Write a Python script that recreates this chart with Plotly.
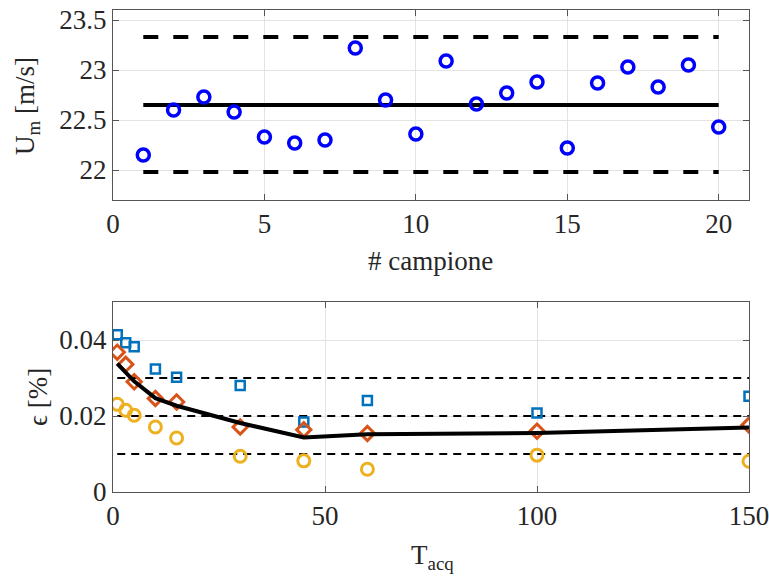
import numpy as np
import plotly.graph_objects as go

# Top panel: mean velocity per sample
campione = list(range(1, 21))
u_m = [22.15, 22.60, 22.73, 22.58, 22.33, 22.27, 22.30, 23.22, 22.70, 22.36,
       23.09, 22.66, 22.77, 22.88, 22.22, 22.87, 23.03, 22.83, 23.05, 22.43]
u_mean = 22.65
u_upper = 23.33
u_lower = 21.98

# Bottom panel: error vs acquisition time
t_acq = [1, 3, 5, 10, 15, 30, 45, 60, 100, 150]
eps_blue = [0.0414, 0.0393, 0.0382, 0.0324, 0.0302, 0.0280, 0.0184, 0.0241, 0.0208, 0.0252]
eps_orange = [0.0368, 0.0336, 0.0290, 0.0246, 0.0237, 0.0171, 0.0164, 0.0154, 0.0160, 0.0176]
eps_yellow = [0.0231, 0.0215, 0.0202, 0.0171, 0.0142, 0.0094, 0.0082, 0.0060, 0.0097, 0.0081]
eps_mean = list(np.mean([eps_blue, eps_orange, eps_yellow], axis=0))
eps_levels = [0.01, 0.02, 0.03]

W, H = 769, 576
FONT = "Liberation Serif, Times New Roman, serif"
TXT = "#262626"

fig = go.Figure()

# --- top panel ---
for yv, dash in [(u_upper, "15px,15px"), (u_lower, "15px,15px"), (u_mean, "solid")]:
    fig.add_trace(go.Scatter(x=[campione[0], campione[-1]], y=[yv, yv], mode="lines",
                             line=dict(color="black", width=4, dash=dash),
                             xaxis="x", yaxis="y", hoverinfo="skip"))
fig.add_trace(go.Scatter(x=campione, y=u_m, mode="markers",
                         marker=dict(symbol="circle-open", size=12, color="#0000FF",
                                     line=dict(width=3.5, color="#0000FF")),
                         xaxis="x", yaxis="y"))

# --- bottom panel ---
for lv in eps_levels:
    fig.add_trace(go.Scatter(x=[t_acq[0], t_acq[-1]], y=[lv, lv], mode="lines",
                             line=dict(color="black", width=2.2, dash="8px,6px"),
                             xaxis="x2", yaxis="y2", hoverinfo="skip"))
fig.add_trace(go.Scatter(x=t_acq, y=eps_blue, mode="markers",
                         marker=dict(symbol="square-open", size=9, color="#0072BD",
                                     line=dict(width=2.5, color="#0072BD")),
                         xaxis="x2", yaxis="y2"))
fig.add_trace(go.Scatter(x=t_acq, y=eps_orange, mode="markers",
                         marker=dict(symbol="diamond-open", size=11, color="#D95319",
                                     line=dict(width=3, color="#D95319")),
                         xaxis="x2", yaxis="y2"))
fig.add_trace(go.Scatter(x=t_acq, y=eps_yellow, mode="markers",
                         marker=dict(symbol="circle-open", size=12, color="#EDB120",
                                     line=dict(width=3, color="#EDB120")),
                         xaxis="x2", yaxis="y2"))
fig.add_trace(go.Scatter(x=t_acq, y=eps_mean, mode="lines",
                         line=dict(color="black", width=4),
                         xaxis="x2", yaxis="y2", hoverinfo="skip"))

axis_common = dict(showline=True, linecolor="#555555", linewidth=1, mirror="ticks",
                   ticks="inside", ticklen=6, tickcolor="#555555", automargin=False,
                   ticklabeloverflow="allow",
                   showgrid=True, gridcolor="#e3e3e3", gridwidth=1, zeroline=False,
                   tickfont=dict(family=FONT, size=27, color=TXT))

xdom = [113 / W, 749 / W]
fig.update_layout(
    width=W, height=H, margin=dict(l=0, r=0, t=0, b=0, autoexpand=False),
    paper_bgcolor="white", plot_bgcolor="white", showlegend=False,
    xaxis=dict(domain=xdom, range=[0, 21], tickvals=[0, 5, 10, 15, 20], anchor="y", **axis_common),
    yaxis=dict(domain=[1 - 200 / H, 1 - 10 / H], range=[21.7, 23.6],
               tickvals=[22, 22.5, 23, 23.5], ticktext=["22", "22.5", "23", "23.5"],
               anchor="x", **axis_common),
    xaxis2=dict(domain=xdom, range=[0, 150], tickvals=[0, 50, 100, 150], anchor="y2", **axis_common),
    yaxis2=dict(domain=[1 - 492 / H, 1 - 302 / H], range=[0, 0.05],
                tickvals=[0, 0.02, 0.04], ticktext=["0", "0.02", "0.04"],
                anchor="x2", **axis_common),
)

title_font = dict(family=FONT, size=27, color=TXT)
annots = [
    dict(text="U<sub>m</sub> [m/s]", x=27 / W, y=1 - 106 / H, textangle=-90),
    dict(text="ϵ [%]", x=38 / W, y=1 - 397 / H, textangle=-90),
    dict(text="# campione", x=430 / W, y=1 - 261 / H, textangle=0),
    dict(text="T<sub>acq</sub>", x=432 / W, y=1 - 557 / H, textangle=0),
]
for a in annots:
    fig.add_annotation(xref="paper", yref="paper", showarrow=False,
                       xanchor="center", yanchor="middle", font=title_font, **a)

fig.write_html("out.html")
